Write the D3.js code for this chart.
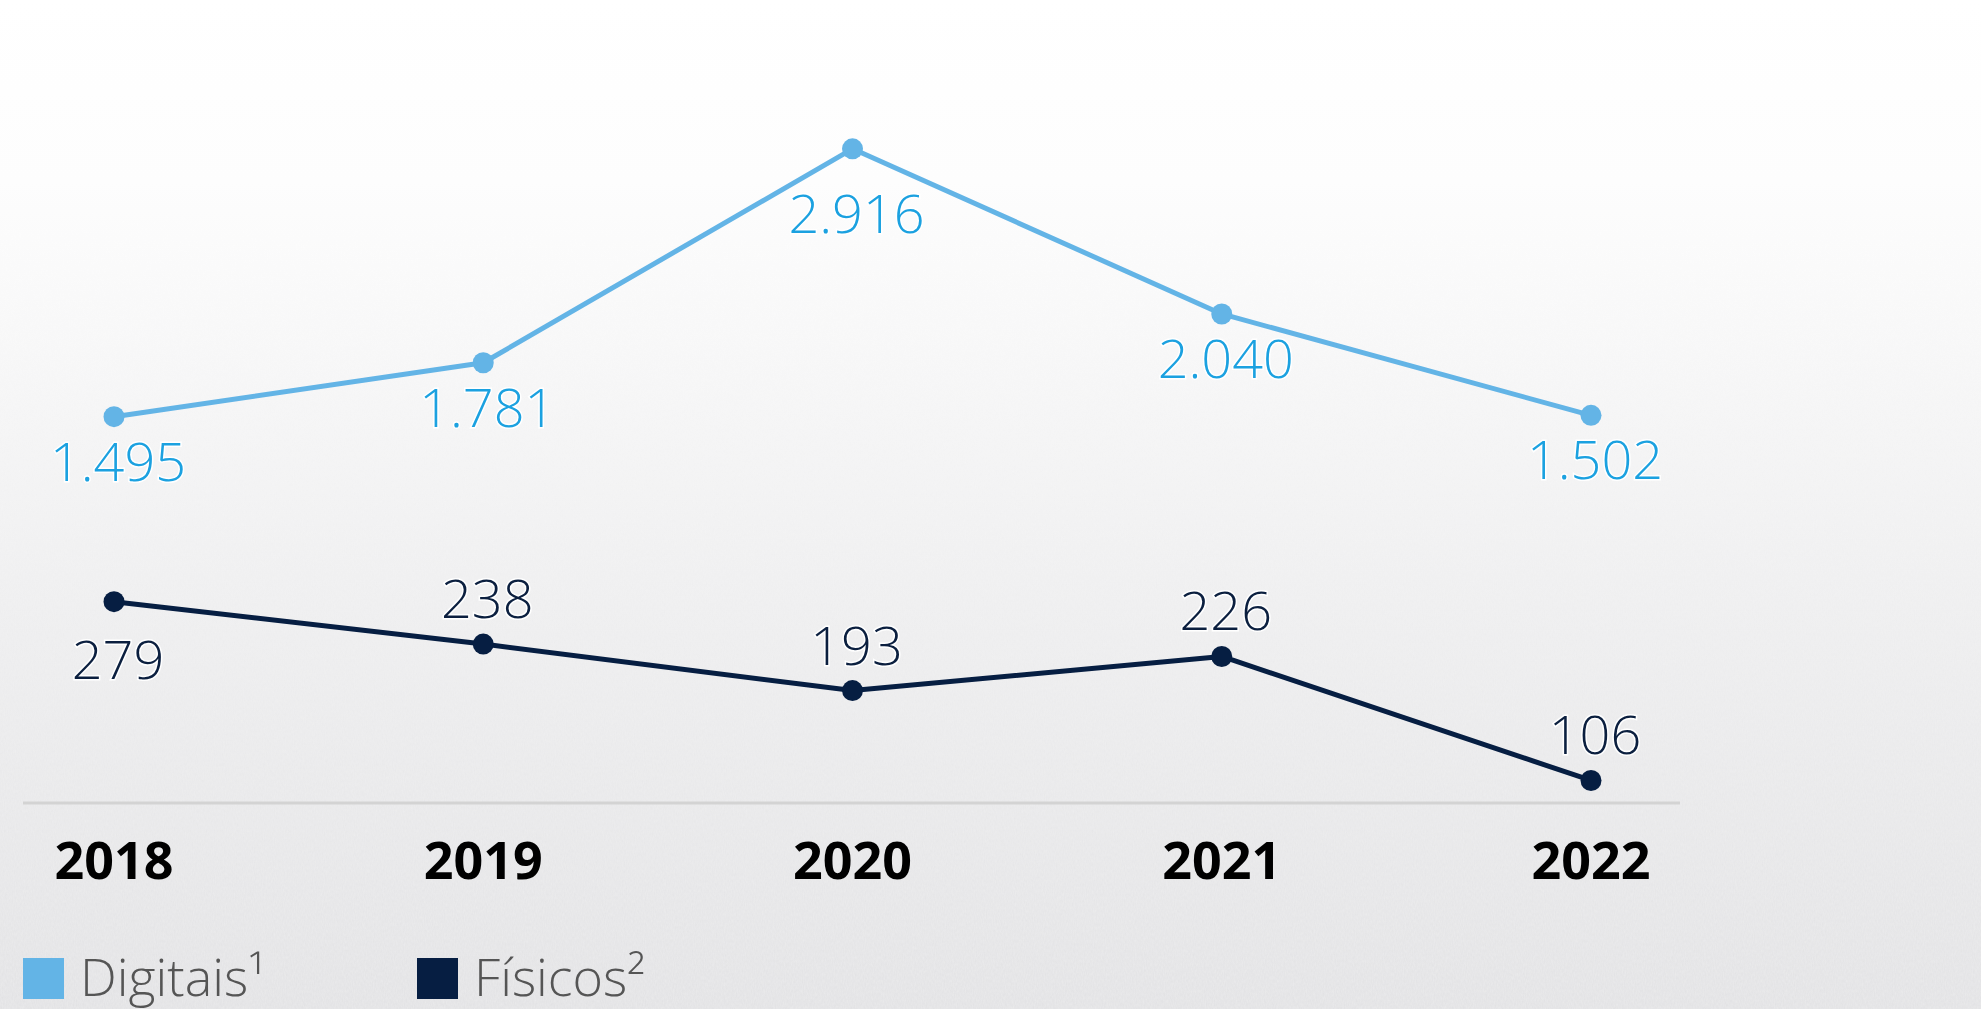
<!DOCTYPE html>
<html>
<head>
<meta charset="utf-8">
<script src="https://cdn.jsdelivr.net/npm/d3@7"></script>
<style>
  html, body { margin: 0; padding: 0; background: #fff; }
  svg { display: block; font-family: "Open Sans", "Noto Sans", sans-serif; }
</style>
</head>
<body>
<svg id="chart"></svg>
<script>
// Data
const years = ["2018", "2019", "2020", "2021", "2022"];
const digitais = [1495, 1781, 2916, 2040, 1502];
const fisicos = [279, 238, 193, 226, 106];
const seriesNames = ["Digitais¹", "Físicos²"];

const width = 1981, height = 1009;

const svg = d3.select("#chart")
    .attr("width", width)
    .attr("height", height);

// Background: white fading to light grey, with a little grain
const defs = svg.append("defs");
const grad = defs.append("linearGradient")
    .attr("id", "bg")
    .attr("x1", 0).attr("y1", 0).attr("x2", 0).attr("y2", 1);
grad.append("stop").attr("offset", "0%").attr("stop-color", "#ffffff");
grad.append("stop").attr("offset", "18%").attr("stop-color", "#fdfdfd");
grad.append("stop").attr("offset", "60%").attr("stop-color", "#eeeeef");
grad.append("stop").attr("offset", "100%").attr("stop-color", "#e1e1e3");

const noise = defs.append("filter").attr("id", "grain");
noise.append("feTurbulence")
    .attr("type", "fractalNoise")
    .attr("baseFrequency", "0.9 0.3")
    .attr("numOctaves", 2)
    .attr("seed", 3);
noise.append("feColorMatrix")
    .attr("type", "matrix")
    .attr("values", "0 0 0 0 1  0 0 0 0 1  0 0 0 0 1  0 0 0 0.5 0");

const fade = defs.append("linearGradient")
    .attr("id", "fade")
    .attr("x1", 0).attr("y1", 0).attr("x2", 0).attr("y2", 1);
fade.append("stop").attr("offset", "0%").attr("stop-color", "#fff").attr("stop-opacity", 0);
fade.append("stop").attr("offset", "100%").attr("stop-color", "#fff").attr("stop-opacity", 1);
const mask = defs.append("mask").attr("id", "fadeMask");
mask.append("rect").attr("width", width).attr("height", height).attr("fill", "url(#fade)");

svg.append("rect").attr("width", width).attr("height", height).attr("fill", "url(#bg)");
svg.append("rect").attr("width", width).attr("height", height)
    .attr("filter", "url(#grain)")
    .attr("mask", "url(#fadeMask)")
    .attr("opacity", 0.6);

// Scales
const x = d3.scalePoint()
    .domain(years)
    .range([114, 1591]);

// each series sits on its own vertical band
const yDig = d3.scaleLinear()
    .domain([1000, 3000])
    .range([510, 133]);

const yFis = d3.scaleLinear()
    .domain([0, 300])
    .range([890, 580]);

const colors = {
    digLine: "#63b4e6",
    digText: "#1ba1e0",
    fisLine: "#061e42",
    fisText: "#0b1f3f"
};

// Baseline
svg.append("line")
    .attr("x1", 23).attr("x2", 1680)
    .attr("y1", 803).attr("y2", 803)
    .attr("stroke", "#d3d3d3")
    .attr("stroke-width", 3);

// Year labels
svg.append("g")
    .selectAll("text")
    .data(years)
    .join("text")
    .attr("x", d => x(d))
    .attr("y", 879)
    .attr("text-anchor", "middle")
    .attr("font-size", 52)
    .attr("font-weight", 700)
    .attr("fill", "#000")
    .text(d => d);

const fmt = d3.formatLocale({ decimal: ",", thousands: ".", grouping: [3] }).format(",d");

function drawSeries(values, yScale, lineColor, textColor, labelDy) {
    const pts = values.map((v, i) => ({ year: years[i], value: v, i: i }));
    const g = svg.append("g");

    g.append("path")
        .datum(pts)
        .attr("fill", "none")
        .attr("stroke", lineColor)
        .attr("stroke-width", 5)
        .attr("stroke-linejoin", "round")
        .attr("d", d3.line().x(d => x(d.year)).y(d => yScale(d.value)));

    g.selectAll("circle")
        .data(pts)
        .join("circle")
        .attr("cx", d => x(d.year))
        .attr("cy", d => yScale(d.value))
        .attr("r", 10.5)
        .attr("fill", lineColor);

    g.selectAll("text")
        .data(pts)
        .join("text")
        .attr("x", d => x(d.year) + 4)
        .attr("y", d => yScale(d.value) + labelDy(d, pts))
        .attr("text-anchor", "middle")
        .attr("font-size", 54)
        .attr("font-weight", 300)
        .attr("fill", textColor)
        .attr("stroke", "#ffffff")
        .attr("stroke-width", 3)
        .attr("paint-order", "stroke")
        .text(d => fmt(d.value));
}

// Digitais labels sit under the points, lower at the peak
drawSeries(digitais, yDig, colors.digLine, colors.digText, (d, pts) =>
    d.value === d3.max(pts, p => p.value) ? 84 : 64);

// Físicos: first label under, the rest above
drawSeries(fisicos, yFis, colors.fisLine, colors.fisText, (d) =>
    d.i === 0 ? 77 : -26);

// Legend
const legendX = [23, 417];
const legendColors = [colors.digLine, colors.fisLine];
const legend = svg.append("g")
    .selectAll("g")
    .data(seriesNames)
    .join("g")
    .attr("transform", (d, i) => `translate(${legendX[i]}, 958)`);

legend.append("rect")
    .attr("width", 41)
    .attr("height", 41)
    .attr("fill", (d, i) => legendColors[i]);

legend.append("text")
    .attr("x", 57)
    .attr("y", 38)
    .attr("font-size", 52)
    .attr("font-weight", 300)
    .attr("fill", "#555555")
    .text(d => d);
</script>
</body>
</html>
